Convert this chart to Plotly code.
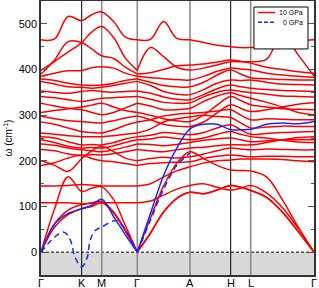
import plotly.graph_objects as go

# ---------------- data ----------------
# path coordinate of knots (Γ-K-M-Γ-A-H-L-Γ)
kpt_x = [0, 13.6, 27.1, 40.7, 50.7, 60.7, 72.6, 84.4, 96.3,
         109.5, 122.6, 135.8, 149.0, 162.6, 176.1, 189.7, 199.7, 209.7,
         225.5, 241.3, 257.2, 273.0]
sym_x = [0, 40.7, 60.7, 96.3, 149.0, 189.7, 209.7, 273.0]
sym_labels = ["Γ", "K", "M", "Γ", "A", "H", "L", "Γ"]
y_ticks = [0, 100, 200, 300, 400, 500]
legend_labels = ["10 GPa", "0 GPa"]

# 10 GPa phonon branches (cm^-1) read at the knots
a1 = [0, 95, 165, 133, 140, 143, 115, 58, 0, 75, 145, 195, 220, 205, 190, 180, 179, 178, 165, 115, 55, 0]
a2 = [0, 62, 92, 104, 108, 111, 88, 48, 0, 42, 88, 118, 131, 128, 136, 146, 142, 135, 120, 88, 45, 0]
a3 = [0, 55, 82, 95, 100, 108, 86, 46, 0, 42, 88, 118, 131, 128, 136, 146, 142, 135, 120, 88, 45, 0]
o1 = [108, 108, 108, 106, 107, 108, 108, 108, 108, 112, 125, 138, 146, 150, 142, 136, 140, 146, 130, 98, 52, 0]
o2 = [145, 145, 146, 148, 147, 145, 145, 145, 145, 150, 165, 178, 187, 195, 200, 202, 204, 204, 204, 203, 200, 198]
o3 = [190, 196, 206, 212, 205, 200, 198, 194, 190, 194, 196, 197, 198, 205, 210, 213, 211, 209, 210, 210, 209, 209]
o4 = [200, 190, 177, 205, 222, 232, 220, 206, 200, 205, 208, 206, 209, 215, 222, 228, 226, 224, 226, 225, 224, 224]
o5 = [225, 222, 215, 212, 214, 213, 216, 220, 225, 222, 220, 224, 228, 230, 233, 235, 235, 235, 240, 246, 251, 253]
o6 = [237, 234, 228, 224, 222, 220, 224, 230, 237, 236, 233, 236, 240, 245, 248, 250, 246, 242, 244, 246, 246, 246]
o7 = [246, 240, 232, 228, 229, 228, 233, 240, 246, 248, 252, 249, 246, 250, 258, 264, 258, 253, 250, 245, 241, 240]
o8 = [253, 250, 242, 235, 236, 235, 240, 248, 253, 256, 262, 260, 257, 262, 272, 279, 268, 258, 260, 262, 263, 264]
o9 = [261, 258, 255, 253, 253, 253, 255, 258, 261, 270, 285, 292, 296, 300, 297, 295, 283, 272, 274, 276, 275, 275]
o10 = [285, 280, 272, 264, 262, 261, 268, 278, 285, 290, 298, 302, 304, 306, 309, 312, 300, 290, 292, 291, 290, 290]
o11 = [298, 292, 288, 286, 284, 283, 288, 294, 298, 290, 280, 276, 275, 285, 305, 323, 315, 308, 312, 318, 324, 327]
o12 = [306, 310, 314, 318, 322, 326, 318, 310, 306, 300, 292, 288, 286, 300, 322, 341, 332, 323, 318, 314, 313, 312]
o13 = [326, 320, 315, 312, 306, 301, 306, 316, 326, 320, 312, 312, 315, 330, 342, 349, 343, 337, 328, 318, 306, 301]
o14 = [341, 338, 334, 330, 333, 337, 338, 340, 341, 335, 328, 326, 327, 340, 350, 355, 352, 349, 346, 342, 341, 340]
o15 = [353, 350, 348, 352, 354, 352, 350, 352, 353, 348, 340, 335, 334, 345, 358, 366, 362, 359, 356, 354, 353, 352]
o16 = [374, 368, 362, 361, 359, 361, 365, 370, 374, 365, 352, 346, 345, 356, 370, 377, 376, 377, 372, 368, 367, 366]
o17 = [379, 376, 370, 366, 365, 366, 370, 376, 379, 372, 365, 362, 362, 372, 388, 399, 390, 382, 380, 378, 377, 377]
o18 = [385, 392, 397, 398, 404, 406, 403, 392, 385, 382, 380, 378, 377, 385, 396, 403, 401, 399, 392, 388, 385, 383]
o19 = [390, 421, 461, 459, 445, 430, 424, 405, 390, 393, 400, 408, 410, 412, 416, 421, 418, 414, 405, 400, 395, 392]
o20 = [398, 418, 438, 459, 482, 494, 470, 425, 398, 448, 428, 405, 399, 403, 410, 417, 417, 417, 422, 478, 432, 386]
o21 = [465, 467, 516, 507, 520, 526, 505, 471, 465, 466, 505, 468, 465, 459, 453, 450, 448, 448, 449, 456, 462, 465]
bands_10gpa = [a1, a2, a3, o1, o2, o3, o4, o5, o6, o7, o8, o9, o10, o11,
               o12, o13, o14, o15, o16, o17, o18, o19, o20, o21]

# 0 GPa branches
blue_solid = [0, 62, 85, 95, 103, 116, 78, 38, 0, 85, 168, 228, 270, 280, 280, 268, 268, 269, 280, 283, 281, 286]
dash_x = [0, 13.6, 22.3, 27.1, 30.7, 34.0, 40.7, 46.3, 49.0, 54.0, 60.7, 75.7, 85.7, 96.3,
          109.5, 122.6, 135.8, 149.0]
dash_y = [0, 33, 44, 36, 18, -11, -32, -11, 25, 47, 55, 69, 44, 0,
          70, 138, 190, 217]

# ---------------- figure ----------------
GAMMA_MID = sym_x[3]
X_END = sym_x[-1]
Y_MIN, Y_MAX = -50, 550
RED = "#ff0000"
BLUE = "#1428ff"


def split(xs, ys, at):
    i = xs.index(at)
    return [(xs[:i + 1], ys[:i + 1]), (xs[i:], ys[i:])]


fig = go.Figure()
for band in bands_10gpa:
    for xs, ys in split(kpt_x, band, GAMMA_MID):
        fig.add_trace(go.Scatter(
            x=xs, y=ys, mode="lines",
            line=dict(color=RED, width=1.5, shape="spline", smoothing=1.0),
            name=legend_labels[0], showlegend=False, hoverinfo="skip"))

for xs, ys in split(kpt_x, blue_solid, GAMMA_MID):
    fig.add_trace(go.Scatter(
        x=xs, y=ys, mode="lines",
        line=dict(color=BLUE, width=1.5, shape="spline", smoothing=1.0),
        showlegend=False, hoverinfo="skip"))

for xs, ys in split(dash_x, dash_y, GAMMA_MID):
    fig.add_trace(go.Scatter(
        x=xs, y=ys, mode="lines",
        line=dict(color=BLUE, width=1.5, dash="6px,4px", shape="spline", smoothing=1.0),
        name=legend_labels[1], showlegend=False, hoverinfo="skip"))

shapes = [
    dict(type="rect", xref="x", yref="y", x0=0, x1=X_END, y0=Y_MIN, y1=0,
         fillcolor="#d9d9d9", line=dict(width=0), layer="below"),
    dict(type="line", xref="x", yref="y", x0=0, x1=X_END, y0=0, y1=0,
         line=dict(color="black", width=1, dash="3px,2px"), layer="below"),
]
dark = {"K", "H"}
for xv, lab in zip(sym_x[1:-1], sym_labels[1:-1]):
    shapes.append(dict(type="line", xref="x", yref="y", x0=xv, x1=xv, y0=Y_MIN, y1=Y_MAX,
                       line=dict(color="black" if lab in dark else "#8c8c8c",
                                 width=1 if lab in dark else 1.6),
                       layer="below"))

# legend box (paper placement inside the plot area)
shapes.append(dict(type="rect", xref="paper", yref="paper", x0=0.780, x1=0.978,
                   y0=0.825, y1=0.978,
                   fillcolor="white", line=dict(color="black", width=1), layer="above"))
shapes.append(dict(type="line", xref="paper", yref="paper", x0=0.795, x1=0.857,
                   y0=0.958, y1=0.958, line=dict(color=RED, width=1.5), layer="above"))
shapes.append(dict(type="line", xref="paper", yref="paper", x0=0.795, x1=0.857,
                   y0=0.922, y1=0.922, line=dict(color=BLUE, width=1.5, dash="4px,2px"),
                   layer="above"))
annotations = [
    dict(xref="paper", yref="paper", x=0.967, y=0.958, text=legend_labels[0],
         showarrow=False, xanchor="right", yanchor="middle", font=dict(size=7)),
    dict(xref="paper", yref="paper", x=0.967, y=0.922, text=legend_labels[1],
         showarrow=False, xanchor="right", yanchor="middle", font=dict(size=7)),
]
# x tick labels as annotations just under the axis
for xv, lab in zip(sym_x, sym_labels):
    annotations.append(dict(xref="x", yref="paper", x=xv, y=0, text=lab,
                            showarrow=False, xanchor="center", yanchor="top",
                            yshift=0, font=dict(size=11)))

fig.update_layout(
    width=319, height=288,
    margin=dict(l=41, r=5, t=1, b=13),
    paper_bgcolor="white", plot_bgcolor="white",
    font=dict(family="Liberation Sans, Arial, sans-serif", color="black", size=10),
    shapes=shapes, annotations=annotations,
    showlegend=False,
    xaxis=dict(range=[0, X_END], showticklabels=False,
               showgrid=False, zeroline=False, showline=True, linecolor="#333",
               linewidth=1.5, mirror=True, ticks="", automargin=False),
    yaxis=dict(range=[Y_MIN, Y_MAX], tickmode="array", tickvals=y_ticks,
               showgrid=False, zeroline=False, showline=True, linecolor="#333",
               linewidth=1.5, mirror="ticks", ticks="inside", ticklen=6,
               tickcolor="#555",
               minor=dict(ticks="inside", ticklen=3, tickmode="linear", tick0=0, dtick=50,
                          tickcolor="#555", showgrid=False),
               tickfont=dict(size=11), automargin=False,
               title=dict(text="ω (cm<sup>-1</sup>)", font=dict(size=10), standoff=4)),
)

fig.write_html("out.html", config={"displayModeBar": False},
               post_script="document.body.style.margin='0px';")
